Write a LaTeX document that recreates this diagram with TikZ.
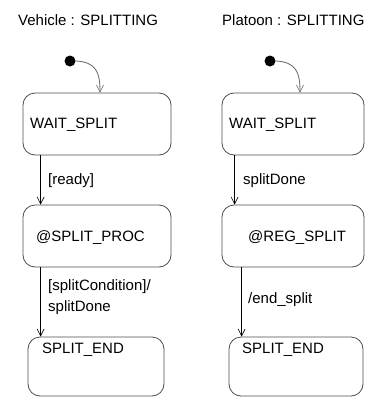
\documentclass[tikz,border=0pt]{standalone}
\usepackage{fontspec}
\setmainfont{Liberation Sans}
\usetikzlibrary{arrows.meta}
\tikzset{
  state/.style={draw=black!70, rounded corners=12pt, line width=0.8pt, inner sep=0pt},
  txt/.style={anchor=west, inner sep=0pt, font=\fontsize{15}{17}\selectfont},
  tr/.style={-{Straight Barb[length=7pt,width=7pt,line width=0.6pt]}, line width=0.8pt},
}
\begin{document}
\begin{tikzpicture}[x=1pt,y=-1pt]
\useasboundingbox (0,0) rectangle (365,397);
% titles
\node[txt] (tv) at (18,20) {Vehicle : SPLITTING};
\node[txt] (tp) at (222,20) {Platoon : SPLITTING};
% left machine
\node[circle, fill=black, inner sep=0pt, minimum size=11pt] (i1) at (70,61) {};
\node[state, minimum width=148pt, minimum height=62pt] (wait1) at (97,124) {};
\node[state, minimum width=148pt, minimum height=62pt] (proc1) at (97,236) {};
\node[state, minimum width=136pt, minimum height=59pt] (end1) at (96,366.5) {};
\node[txt] (lw1) at (30,125) {WAIT\_SPLIT};
\node[txt] (lp1) at (36,238) {@SPLIT\_PROC};
\node[txt] (le1) at (42,350) {SPLIT\_END};
\draw[tr, black!60] (i1.east) .. controls (96,62) and (100,72) .. ([xshift=3pt]wait1.north);
\draw[tr] ([xshift=18pt]wait1.south west) -- ([xshift=18pt]proc1.north west);
\draw[tr] ([xshift=18pt]proc1.south west) -- ([xshift=13pt]end1.north west);
\node[txt] (ready) at (48,181) {[ready]};
\node[txt] (cond) at (48,287) {[splitCondition]/};
\node[txt] (done1) at (48,308) {splitDone};
% right machine
\node[circle, fill=black, inner sep=0pt, minimum size=11pt] (i2) at (270,61) {};
\node[state, minimum width=142pt, minimum height=62pt] (wait2) at (293,124) {};
\node[state, minimum width=142pt, minimum height=62pt] (reg2) at (293,236) {};
\node[state, minimum width=134pt, minimum height=59pt] (end2) at (296,366.5) {};
\node[txt] (lw2) at (229,125) {WAIT\_SPLIT};
\node[txt] (lr2) at (248,238) {@REG\_SPLIT};
\node[txt] (le2) at (242,350) {SPLIT\_END};
\draw[tr, black!60] (i2.east) .. controls (296,62) and (300,72) .. ([xshift=7pt]wait2.north);
\draw[tr] ([xshift=13pt]wait2.south west) -- ([xshift=13pt]reg2.north west);
\draw[tr] ([xshift=20pt]reg2.south west) -- ([xshift=13pt]end2.north west);
\node[txt] (done2) at (243,181) {splitDone};
\node[txt] (endsp) at (248,300) {/end\_split};
\end{tikzpicture}
\end{document}
